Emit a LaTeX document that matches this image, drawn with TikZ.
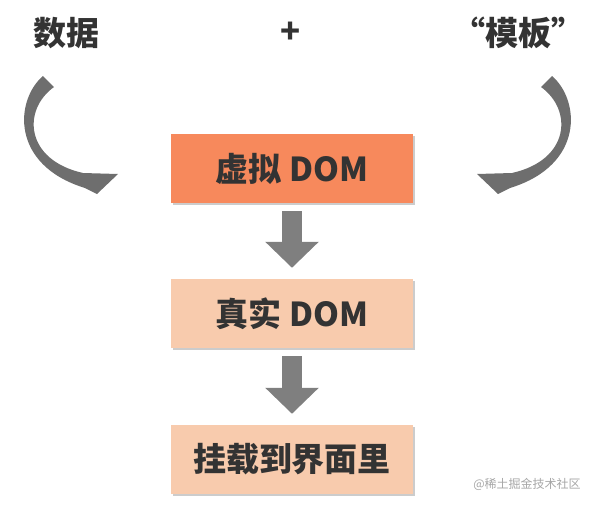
\documentclass[tikz,border=0pt]{standalone}
\usepackage{fontspec}
\usepackage{xcolor}
\usepackage{tikz}
\usetikzlibrary{arrows.meta,shadows}
\newfontfamily\cjk{Noto Sans CJK SC}
\definecolor{txt}{HTML}{333333}
\definecolor{vdomfill}{HTML}{F7895C}
\definecolor{peach}{HTML}{F8CBAD}
\definecolor{flowgray}{HTML}{7F7F7F}
\definecolor{bendgray}{HTML}{6E6E6E}

\begin{document}
\begin{tikzpicture}[x=1pt,y=-1pt,
  title/.style={font=\cjk\bfseries\fontsize{33}{38}\selectfont, text=txt},
  box/.style={minimum width=242pt, minimum height=69pt, inner sep=0pt,
    font=\cjk\bfseries\fontsize{33}{38}\selectfont, text=txt,
    drop shadow={shadow xshift=2pt, shadow yshift=-2pt, fill=black!40}},
  down/.style={flowgray, line width=20pt, shorten <=8pt, shorten >=11pt,
    -{Triangle[length=26pt, width=52pt]}},
  bendarrow/.style={fill=bendgray},
  wmark/.style={font=\cjk\fontsize{12}{14}\selectfont, text=black!35}]
	\useasboundingbox (0,0) rectangle (598,506);
	
	%Titles
	\node[title] (data) at (67,33) {数据};
	\node[title] (plus) at (291,33) {+};
	\node[title] (tmpl) at (518,33) {“模板”};
	
	%Boxes
	\node[box, fill=vdomfill] (vdom) at (292,168.5) {虚拟 DOM};
	\node[box, fill=peach] (rdom) at (292,313.5) {真实 DOM};
	\node[box, fill=peach] (mount) at (292,459.5) {挂载到界面里};
	
	%Flow
	\draw[down] (vdom) -- (rdom);
	\draw[down] (rdom) -- (mount);
	
	%Bent arrows
	\fill[bendarrow] (43,76) .. controls (15,100) and (10,165) .. (85,188) -- (97,194)
		-- (118,174) -- (83,173) .. controls (25,160) and (22,110) .. (54,87) -- cycle;
	\begin{scope}[xshift=595pt, xscale=-1]
		\fill[bendarrow] (43,76) .. controls (15,100) and (10,165) .. (85,188) -- (97,194)
			-- (118,174) -- (83,173) .. controls (25,160) and (22,110) .. (54,87) -- cycle;
	\end{scope}
	
	%Watermark
	\node[wmark] (wm) at (527,484) {@稀土掘金技术社区};
\end{tikzpicture}
\end{document}
